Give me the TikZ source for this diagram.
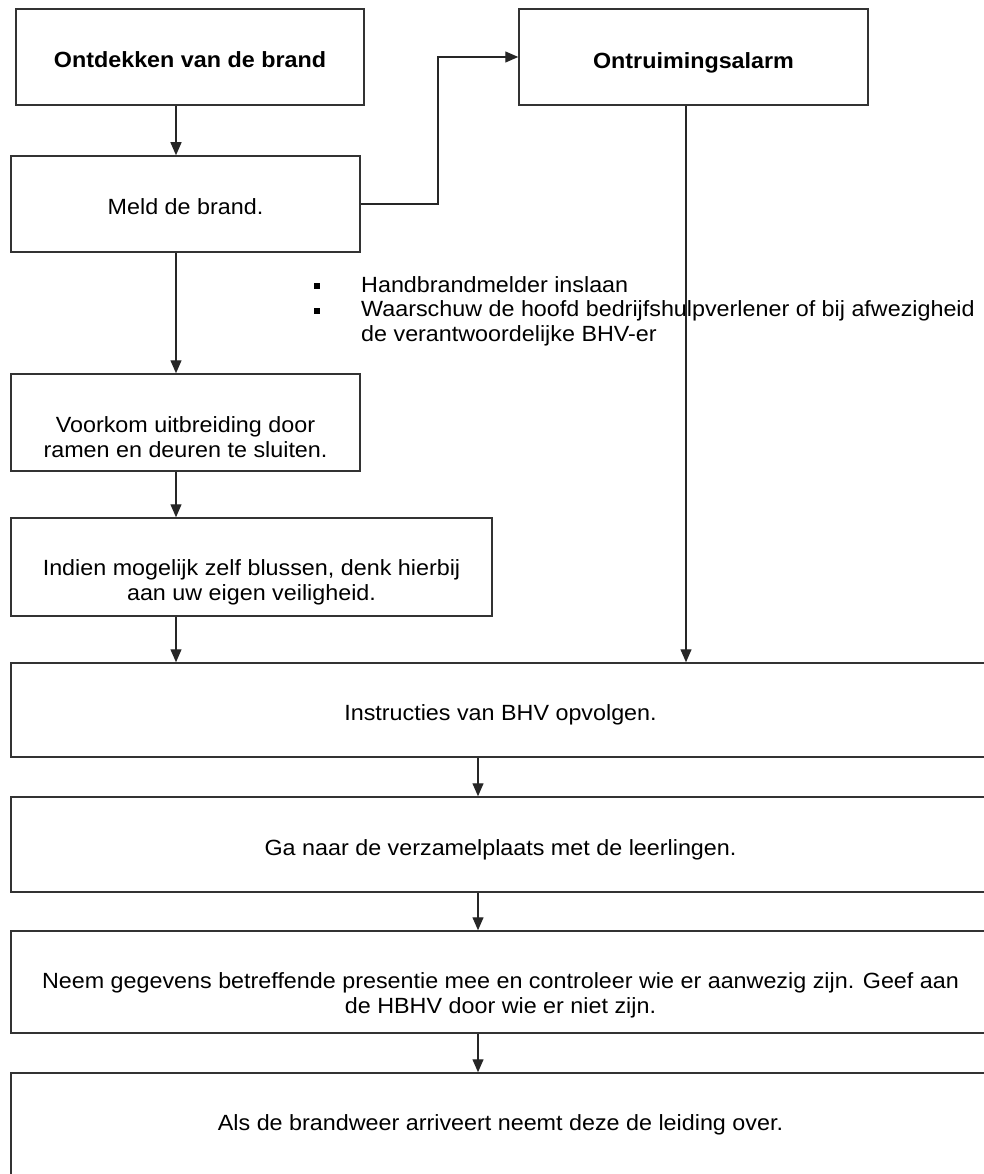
\documentclass[tikz,border=0pt]{standalone}
\usepackage{fontspec}
\setmainfont{Liberation Sans}[FakeStretch=1.06]
\usetikzlibrary{arrows.meta}

\begin{document}
\begin{tikzpicture}[x=1pt,y=-1pt]
\edef\boxheight{96pt}
\tikzstyle{flowbox}=[draw=black!80,line width=1.5pt,fill=white,align=center,inner sep=2pt,minimum height=\boxheight,font=\fontsize{22}{25}\selectfont]
\tikzstyle{flowarrow}=[draw=black!85,line width=1.3pt,-{Triangle[length=13pt,width=11pt]}]

\useasboundingbox (0,0) rectangle (984,1174);
\clip (0,0) rectangle (984,1174);

%% Columns of the arrows
\coordinate (leftcol) at (176,0);
\coordinate (midcol) at (478,0);
\coordinate (alarmcol) at (686,0);
\coordinate (bend) at (438,0);

%% Top part
\node[flowbox,minimum width=348pt,font=\fontsize{22}{25}\selectfont\bfseries] (detect) at (190,57) {\rule{0pt}{22pt}Ontdekken van de brand};
\node[flowbox,minimum width=349pt,font=\fontsize{22}{25}\selectfont\bfseries] (alarm) at (693.5,57) {\rule{0pt}{28pt}Ontruimingsalarm};
\node[flowbox,minimum width=349pt] (report) at (185.5,204) {\rule{0pt}{22pt}Meld de brand.};

\node[anchor=north west,inner sep=0pt,align=left,font=\fontsize{22}{24.5}\selectfont] (tasks) at (314,276) {%
\makebox[47pt][l]{\rule[3pt]{6pt}{6pt}}Handbrandmelder inslaan\\
\makebox[47pt][l]{\rule[3pt]{6pt}{6pt}}Waarschuw de hoofd bedrijfshulpverlener of bij afwezigheid\\
\hspace*{47pt}de verantwoordelijke BHV-er};

%% Left column
\node[flowbox,minimum width=349pt,minimum height=97pt] (prevent) at (185.5,422.5) {\rule{0pt}{46pt}Voorkom uitbreiding door\\ramen en deuren te sluiten.};
\node[flowbox,minimum width=481pt,minimum height=98pt] (extinguish) at (251.5,567) {\rule{0pt}{46pt}Indien mogelijk zelf blussen, denk hierbij\\aan uw eigen veiligheid.};

%% Wide boxes
\node[flowbox,minimum width=979pt,minimum height=94pt] (instruct) at (500.5,710) {\rule{0pt}{26pt}Instructies van BHV opvolgen.};
\node[flowbox,minimum width=979pt,minimum height=95pt] (assemble) at (500.5,844.5) {\rule{0pt}{26pt}Ga naar de verzamelplaats met de leerlingen.};
\node[flowbox,minimum width=979pt,minimum height=102pt] (presence) at (500.5,982) {\rule{0pt}{42pt}Neem gegevens betreffende presentie mee en controleer wie er aanwezig zijn. Geef aan\\de HBHV door wie er niet zijn.};
\node[flowbox,minimum width=979pt,minimum height=104pt] (arrival) at (500.5,1125) {Als de brandweer arriveert neemt deze de leiding over.};

%% Arrows
\draw[flowarrow] (leftcol |- detect.south) -- (leftcol |- report.north);
\draw[flowarrow] (report.east) -- (bend |- report.east) |- (alarm.west);
\draw[flowarrow] (leftcol |- report.south) -- (leftcol |- prevent.north);
\draw[flowarrow] (leftcol |- prevent.south) -- (leftcol |- extinguish.north);
\draw[flowarrow] (leftcol |- extinguish.south) -- (leftcol |- instruct.north);
\draw[flowarrow] (alarmcol |- alarm.south) -- (alarmcol |- instruct.north);
\draw[flowarrow] (midcol |- instruct.south) -- (midcol |- assemble.north);
\draw[flowarrow] (midcol |- assemble.south) -- (midcol |- presence.north);
\draw[flowarrow] (midcol |- presence.south) -- (midcol |- arrival.north);

\end{tikzpicture}
\end{document}
